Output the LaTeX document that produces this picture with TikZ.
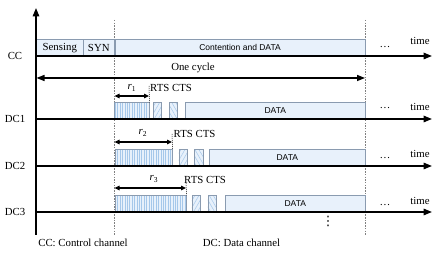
\documentclass[tikz,border=0pt]{standalone}
\usepackage{fontspec}
\setmainfont{Liberation Serif}
\newfontfamily\arialf{Liberation Sans}
\newfontfamily\dejavu{DejaVu Sans}
\usetikzlibrary{arrows.meta,patterns.meta}
\definecolor{boxfill}{HTML}{E8F1FB}
\definecolor{boxline}{HTML}{8A9BB0}
\definecolor{hatch}{HTML}{A6C8EA}
\definecolor{dashgray}{HTML}{808080}
\begin{document}
\begin{tikzpicture}[x=1pt,y=-1pt,
  font=\fontsize{10.8}{12}\selectfont,
  axis/.style={line width=1.6pt,-{Triangle[length=8.5pt,width=6.5pt]}},
  cyc/.style={line width=1.4pt,{Triangle[length=8pt,width=6pt]}-{Triangle[length=8pt,width=6pt]}},
  rarr/.style={line width=1.1pt,{Triangle[length=5pt,width=4.5pt]}-{Triangle[length=5pt,width=4.5pt]}},
  vdash/.style={dashgray,line width=0.5pt,dash pattern=on 1.5pt off 1.2pt},
  rdot/.style={black,line width=0.5pt,dash pattern=on 1pt off 1pt},
  box/.style={draw=boxline,fill=boxfill,line width=0.6pt,inner sep=0pt,minimum height=16pt,anchor=south west},
  txtbox/.style={box,font=\arialf\fontsize{8.5}{10}\selectfont},
  sbox/.style={box,font=\fontsize{10.8}{12}\selectfont},
  boff/.style={box,preaction={fill=boxfill},pattern={Lines[angle=90,distance=2.4pt,line width=0.5pt]},pattern color=hatch},
  rts/.style={box,minimum width=8.5pt,preaction={fill=boxfill},pattern={Lines[angle=60,distance=3.5pt,line width=0.5pt]},pattern color=hatch},
  cts/.style={box,minimum width=8.5pt,preaction={fill=boxfill},pattern={Lines[angle=-60,distance=3.5pt,line width=0.5pt]},pattern color=hatch},
  lab/.style={inner sep=0pt},
]
\useasboundingbox (0,0) rectangle (437,253);

% long dashed verticals
\coordinate (d1t) at (114.5,20); \coordinate (d1b) at (114.5,235);
\coordinate (d2t) at (365,20);   \coordinate (d2b) at (365,235);
\draw[vdash] (d1t) -- (d1b);
\draw[vdash] (d2t) -- (d2b);

% CC boxes
\node[sbox,minimum width=47pt] (sens) at (36,56) {Sensing};
\node[sbox,minimum width=31pt] (syn) at (83,56) {SYN};
\node[txtbox,minimum width=250.5pt] (cont) at (114.5,56) {Contention and DATA};

% DC1
\node[boff,minimum width=34.5pt] (b1) at (114.5,119) {};
\node[rts] (rts1) at (153,119) {};
\node[cts] (cts1) at (169,119) {};
\node[txtbox,minimum width=180pt] (data1) at (185,119) {DATA};
% DC2
\node[boff,minimum width=57.5pt] (b2) at (114.5,166) {};
\node[rts] (rts2) at (178.5,166) {};
\node[cts] (cts2) at (194,166) {};
\node[txtbox,minimum width=156pt] (data2) at (209,166) {DATA};
% DC3
\node[boff,minimum width=71.5pt] (b3) at (114.5,212) {};
\node[rts] (rts3) at (191.5,212) {};
\node[cts] (cts3) at (207.5,212) {};
\node[txtbox,minimum width=140pt] (data3) at (225,212) {DATA};

% axes
\coordinate (axB) at (36,235); \coordinate (axT) at (36,8);
\draw[axis] (axB) -- (axT);
\foreach \n/\y in {cc/56,dca/119,dcb/166,dcc/212}{
  \coordinate (\n0) at (36,\y); \coordinate (\n1) at (432,\y);
  \draw[axis] (\n0) -- (\n1);
}

% channel labels
\node[lab] (lcc) at (15,56) {CC};
\node[lab] (ldc1) at (15,119) {DC1};
\node[lab] (ldc2) at (15,166) {DC2};
\node[lab] (ldc3) at (15,212) {DC3};

% time labels and dots
\foreach \n/\ty/\dy in {a/41/48,b/107/109,c/154/159,d/201/206}{
  \node[lab] (time\n) at (420,\ty) {time};
  \node[lab,anchor=base] (dots\n) at (385,\dy) {\dots};
}

% one cycle
\coordinate (oc0) at (36.5,78); \coordinate (oc1) at (365,78);
\draw[cyc] (oc0) -- (oc1);
\node[lab] (oclab) at (193,67.5) {One cycle};

% r arrows
\coordinate (r1a) at (114.5,96); \coordinate (r1b) at (149,96);
\draw[rarr] (r1a) -- (r1b);
\draw[rdot] (149,86) -- (b1.north east);
\node[lab] (r1lab) at (132,88) {\textit{r}\textsubscript{1}};
\node[lab,anchor=west] (rc1) at (150,88) {RTS CTS};

\coordinate (r2a) at (114.5,142); \coordinate (r2b) at (172,142);
\draw[rarr] (r2a) -- (r2b);
\draw[rdot] (172,134) -- (b2.north east);
\node[lab] (r2lab) at (143,133) {\textit{r}\textsubscript{2}};
\node[lab,anchor=west] (rc2) at (173.5,134) {RTS CTS};

\coordinate (r3a) at (114.5,188); \coordinate (r3b) at (186,188);
\draw[rarr] (r3a) -- (r3b);
\draw[rdot] (186,183) -- (b3.north east);
\node[lab] (r3lab) at (154,179) {\textit{r}\textsubscript{3}};
\node[lab,anchor=west] (rc3) at (184,180) {RTS CTS};

% vertical dots
\node[lab,font=\dejavu\fontsize{13}{14}\selectfont] (vd) at (328,221) {⋮};

% captions
\node[lab] (cap1) at (83,243) {CC: Control channel};
\node[lab] (cap2) at (241.5,243) {DC: Data channel};
\end{tikzpicture}
\end{document}
